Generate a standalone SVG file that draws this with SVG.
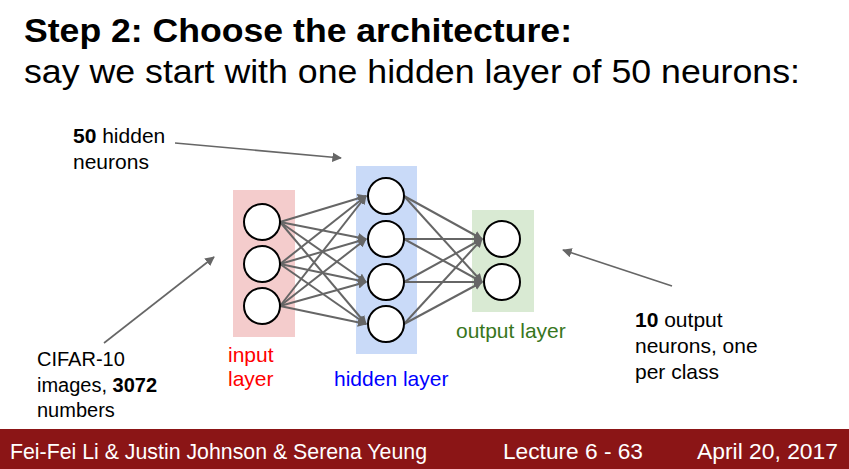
<svg xmlns="http://www.w3.org/2000/svg" width="849" height="469" viewBox="0 0 849 469">
<defs>
<marker id="ah" viewBox="0 0 10 10" refX="9" refY="5" markerWidth="4.5" markerHeight="4.5" orient="auto" markerUnits="strokeWidth">
<path d="M0,0 L10,5 L0,10 z" fill="#666"/>
</marker>
<marker id="ah2" viewBox="0 0 10 10" refX="9" refY="5" markerWidth="6" markerHeight="6" orient="auto" markerUnits="strokeWidth">
<path d="M0,0 L10,5 L0,10 z" fill="#666"/>
</marker>
</defs>
<style>
text{font-family:"Liberation Sans",Arial,sans-serif;}
.n{fill:#fff;stroke:#000;stroke-width:2;}
.e{stroke:#666;stroke-width:2;fill:none;marker-end:url(#ah);}
.c{stroke:#666;stroke-width:1.6;fill:none;marker-end:url(#ah2);}
.lbl{font-size:21px;}
.cf{font-size:20px;}
.foot{fill:#fff;font-size:22.5px;}
</style>
<rect width="849" height="469" fill="#fff"/>
<text x="24" y="42" font-size="33" font-weight="bold" textLength="548" lengthAdjust="spacingAndGlyphs">Step 2: Choose the architecture:</text>
<text x="24" y="83" font-size="33" textLength="776" lengthAdjust="spacingAndGlyphs">say we start with one hidden layer of 50 neurons:</text>

<g id="layers">
<rect x="233" y="190" width="62" height="147" fill="#f4cccc"/>
<rect x="356" y="166" width="61" height="188" fill="#c9daf8"/>
<rect x="472" y="210" width="62" height="102" fill="#d9ead3"/>
</g>

<g id="connectors">
<line class="e" x1="280" y1="222" x2="366" y2="196"/>
<line class="e" x1="280" y1="222" x2="366" y2="239"/>
<line class="e" x1="280" y1="222" x2="366" y2="282"/>
<line class="e" x1="280" y1="222" x2="366" y2="324"/>
<line class="e" x1="280" y1="264" x2="366" y2="196"/>
<line class="e" x1="280" y1="264" x2="366" y2="239"/>
<line class="e" x1="280" y1="264" x2="366" y2="282"/>
<line class="e" x1="280" y1="264" x2="366" y2="324"/>
<line class="e" x1="280" y1="306" x2="366" y2="196"/>
<line class="e" x1="280" y1="306" x2="366" y2="239"/>
<line class="e" x1="280" y1="306" x2="366" y2="282"/>
<line class="e" x1="280" y1="306" x2="366" y2="324"/>
<line class="e" x1="404" y1="196" x2="482" y2="239"/>
<line class="e" x1="404" y1="196" x2="482" y2="282"/>
<line class="e" x1="404" y1="239" x2="482" y2="239"/>
<line class="e" x1="404" y1="239" x2="482" y2="282"/>
<line class="e" x1="404" y1="282" x2="482" y2="239"/>
<line class="e" x1="404" y1="282" x2="482" y2="282"/>
<line class="e" x1="404" y1="324" x2="482" y2="239"/>
<line class="e" x1="404" y1="324" x2="482" y2="282"/>
<line class="c" x1="175" y1="143" x2="341" y2="158"/>
<line class="c" x1="104" y1="343" x2="214" y2="257"/>
<line class="c" x1="672" y1="286" x2="563" y2="250"/>
</g>

<g id="input">
<circle class="n" cx="262" cy="222" r="18"/>
<circle class="n" cx="262" cy="264" r="18"/>
<circle class="n" cx="262" cy="306" r="18"/>
</g>
<g id="hidden">
<circle class="n" cx="386" cy="196" r="18"/>
<circle class="n" cx="386" cy="239" r="18"/>
<circle class="n" cx="386" cy="282" r="18"/>
<circle class="n" cx="386" cy="324" r="18"/>
</g>
<g id="output">
<circle class="n" cx="502" cy="239" r="18"/>
<circle class="n" cx="502" cy="282" r="18"/>
</g>

<g id="labels">
<text class="lbl" x="73" y="143"><tspan font-weight="bold">50</tspan> hidden</text>
<text class="lbl" x="73" y="169">neurons</text>
<text class="cf" x="37" y="366">CIFAR-10</text>
<text class="cf" x="37" y="392">images, <tspan font-weight="bold">3072</tspan></text>
<text class="cf" x="37" y="417">numbers</text>
<text class="lbl" x="228" y="362" fill="#ff0000">input</text>
<text class="lbl" x="228" y="386" fill="#ff0000">layer</text>
<text class="lbl" x="334" y="386" fill="#0000ff">hidden layer</text>
<text class="lbl" x="456" y="338" fill="#38761d">output layer</text>
<text class="lbl" x="635" y="327"><tspan font-weight="bold">10</tspan> output</text>
<text class="lbl" x="635" y="353">neurons, one</text>
<text class="lbl" x="635" y="379">per class</text>
</g>

<g id="footer">
<rect x="0" y="429" width="849" height="40" fill="#8b1516"/>
<text class="foot" x="10" y="459" textLength="417" lengthAdjust="spacingAndGlyphs">Fei-Fei Li &amp; Justin Johnson &amp; Serena Yeung</text>
<text class="foot" x="503" y="459" textLength="140" lengthAdjust="spacingAndGlyphs">Lecture 6 - 63</text>
<text class="foot" x="697" y="459" textLength="141" lengthAdjust="spacingAndGlyphs">April 20, 2017</text>
</g>
</svg>
